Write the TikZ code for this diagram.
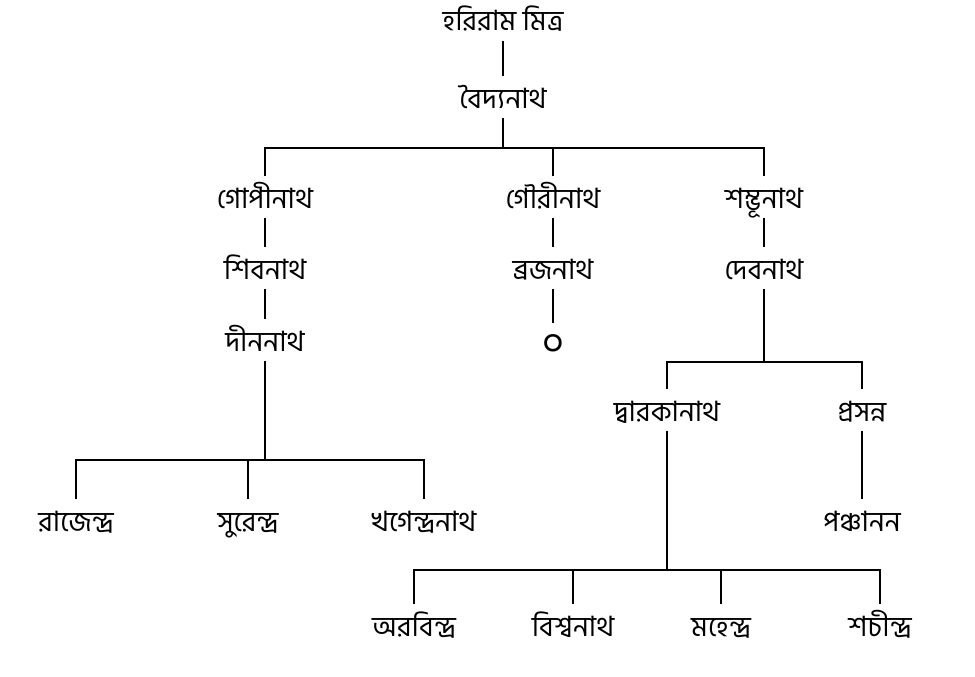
\documentclass[tikz,border=0pt]{standalone}
\usepackage{fontspec}
\newfontfamily\bangla[Script=Bengali]{Hind Siliguri}
\usepackage{tikz}
\begin{document}
\begin{tikzpicture}[x=1pt,y=-1pt,line width=1.2pt,
  person/.style={font=\bangla\fontsize{28}{32}\selectfont,text height=28pt,text depth=6pt,inner sep=3pt}]
		  \useasboundingbox (0,0) rectangle (975,677);
		  \node[person] (hari) at (503,20) {হরিরাম মিত্র};
		  \node[person] (baid) at (503,97) {বৈদ্যনাথ};
                  \node[person] (gopi) at (265,197) {গোপীনাথ};
                  \node[person] (gouri) at (553,197) {গৌরীনাথ};
                  \node[person] (shambhu) at (764,197) {শম্ভূনাথ};
                  \node[person] (shiba) at (265,268) {শিবনাথ};
                  \node[person] (braja) at (553,268) {ব্রজনাথ};
                  \node[person] (deba) at (764,268) {দেবনাথ};
                  \node[person] (dina) at (265,340) {দীননাথ};
                  \node[person,font=\bangla\fontsize{38}{40}\selectfont] (zero) at (553,344) {০};
                  \node[person] (dwaraka) at (667,410) {দ্বারকানাথ};
                  \node[person] (prasanna) at (862,410) {প্রসন্ন};
                  \node[person] (panch) at (862,520) {পঞ্চানন};
                  \node[person] (rajen) at (76,520) {রাজেন্দ্র};
                  \node[person] (suren) at (248,520) {সুরেন্দ্র};
                  \node[person] (khagen) at (424,520) {খগেন্দ্রনাথ};
                  \node[person] (arabinda) at (414,625) {অরবিন্দ্র};
                  \node[person] (bishwa) at (573,625) {বিশ্বনাথ};
                  \node[person] (mahen) at (721,625) {মহেন্দ্র};
                  \node[person] (shachin) at (880,625) {শচীন্দ্র};
                  \coordinate (bara) at (0,148);
                  \coordinate (barb) at (0,362);
                  \coordinate (barc) at (0,460);
                  \coordinate (bard) at (0,570);
		  \draw (hari) -- (baid);
		  \draw (baid) -- (baid |- bara);
		  \draw (gopi) |- (bara -| shambhu) -- (shambhu);
		  \draw (gouri) -- (gouri |- bara);
                  \draw (gopi) -- (shiba) -- (dina);
                  \draw (gouri) -- (braja) -- (zero);
                  \draw (shambhu) -- (deba);
                  \draw (deba) -- (deba |- barb);
                  \draw (dwaraka) |- (barb -| prasanna) -- (prasanna);
                  \draw (prasanna) -- (panch);
                  \draw (dina) -- (dina |- barc);
                  \draw (rajen) |- (barc -| khagen) -- (khagen);
                  \draw (suren) -- (suren |- barc);
                  \draw (dwaraka) -- (dwaraka |- bard);
                  \draw (arabinda) |- (bard -| shachin) -- (shachin);
                  \draw (bishwa) -- (bishwa |- bard);
                  \draw (mahen) -- (mahen |- bard);
		\end{tikzpicture}
\end{document}
